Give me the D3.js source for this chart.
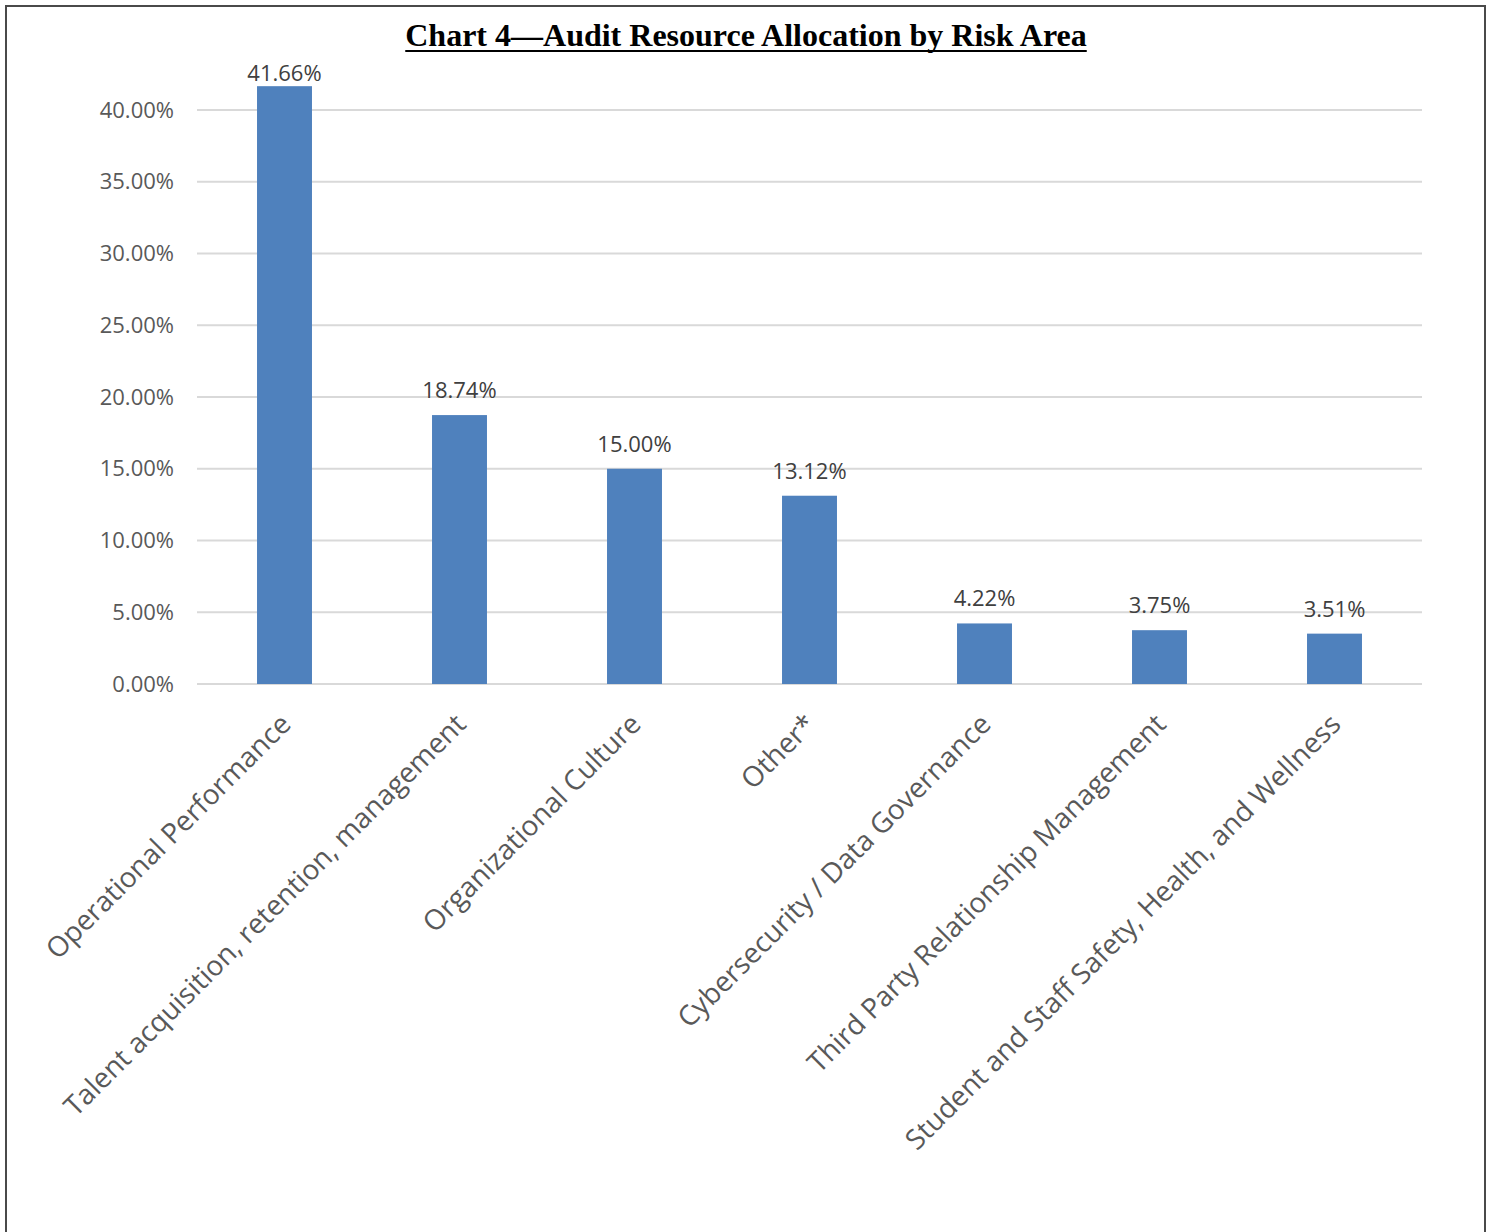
<!DOCTYPE html>
<html>
<head>
<meta charset="utf-8">
<script src="https://cdn.jsdelivr.net/npm/d3@7"></script>
<style>
  html, body { margin: 0; padding: 0; background: #fff; }
  svg { display: block; }
</style>
</head>
<body>
<svg id="chart" width="1491" height="1232"></svg>
<script>
// Share of audit resources by risk area
const categories = [
  "Operational Performance",
  "Talent acquisition, retention, management",
  "Organizational Culture",
  "Other*",
  "Cybersecurity / Data Governance",
  "Third Party Relationship Management",
  "Student and Staff Safety, Health, and Wellness"
];
const shares = [0.4166, 0.1874, 0.1500, 0.1312, 0.0422, 0.0375, 0.0351];
const yTicks = [0, 0.05, 0.10, 0.15, 0.20, 0.25, 0.30, 0.35, 0.40];
const titleText = "Chart 4\u2014Audit Resource Allocation by Risk Area";

const svg = d3.select("#chart");
const W = 1491, H = 1232;
const plot = { left: 197, right: 1422, top: 110, bottom: 684 };
const labelFont = "'Open Sans', 'Noto Sans', sans-serif";
const textColor = "#595959";

// outer frame (open at the bottom)
svg.append("path")
  .attr("d", `M6,${H} L6,6 L1485,6 L1485,${H}`)
  .attr("fill", "none")
  .attr("stroke", "#4a4a4a")
  .attr("stroke-width", 2);

const x = d3.scaleBand()
  .domain(categories)
  .range([plot.left, plot.right])
  .paddingInner(0.686)
  .paddingOuter(0.343);

const y = d3.scaleLinear()
  .domain([0, 0.40])
  .range([plot.bottom, plot.top]);

const pct = d3.format(".2%");

// horizontal gridlines
svg.append("g")
  .selectAll("line")
  .data(yTicks)
  .join("line")
  .attr("x1", plot.left)
  .attr("x2", plot.right)
  .attr("y1", d => y(d))
  .attr("y2", d => y(d))
  .attr("stroke", "#d9d9d9")
  .attr("stroke-width", 2);

// y axis labels
const yAxis = d3.axisLeft(y).tickValues(yTicks).tickFormat(pct).tickSize(0).tickPadding(23);
const yg = svg.append("g").attr("transform", `translate(${plot.left},0)`).call(yAxis);
yg.select(".domain").remove();
yg.selectAll("text")
  .attr("font-family", labelFont)
  .attr("font-size", 22)
  .attr("fill", textColor);

// bars
svg.append("g")
  .selectAll("rect")
  .data(categories)
  .join("rect")
  .attr("x", d => x(d))
  .attr("width", x.bandwidth())
  .attr("y", (d, i) => y(shares[i]))
  .attr("height", (d, i) => y(0) - y(shares[i]))
  .attr("fill", "#4f81bd");

// value labels above bars, kept inside the chart area
svg.append("g")
  .selectAll("text")
  .data(categories)
  .join("text")
  .attr("x", d => x(d) + x.bandwidth() / 2)
  .attr("y", (d, i) => Math.max(y(shares[i]) - 17, 81))
  .attr("text-anchor", "middle")
  .attr("font-family", labelFont)
  .attr("font-size", 22)
  .attr("fill", "#404040")
  .text((d, i) => pct(shares[i]));

// category labels, rotated
const xAxis = d3.axisBottom(x).tickSize(0).tickPadding(0);
const xg = svg.append("g").attr("transform", `translate(0,${plot.bottom})`).call(xAxis);
xg.select(".domain").remove();
xg.selectAll("text")
  .attr("font-family", labelFont)
  .attr("font-size", 28)
  .attr("fill", textColor)
  .attr("text-anchor", "end")
  .attr("dy", null)
  .attr("y", null)
  .attr("transform", "translate(8,42) rotate(-45)");

// title
const title = svg.append("text")
  .attr("x", 746)
  .attr("y", 46)
  .attr("text-anchor", "middle")
  .attr("font-family", "'Liberation Serif', 'Times New Roman', serif")
  .attr("font-weight", "bold")
  .attr("font-size", 32)
  .attr("fill", "#000")
  .text(titleText);

const tb = title.node().getBBox();
svg.append("line")
  .attr("x1", tb.x)
  .attr("x2", tb.x + tb.width)
  .attr("y1", 51)
  .attr("y2", 51)
  .attr("stroke", "#000")
  .attr("stroke-width", 2);
</script>
</body>
</html>
